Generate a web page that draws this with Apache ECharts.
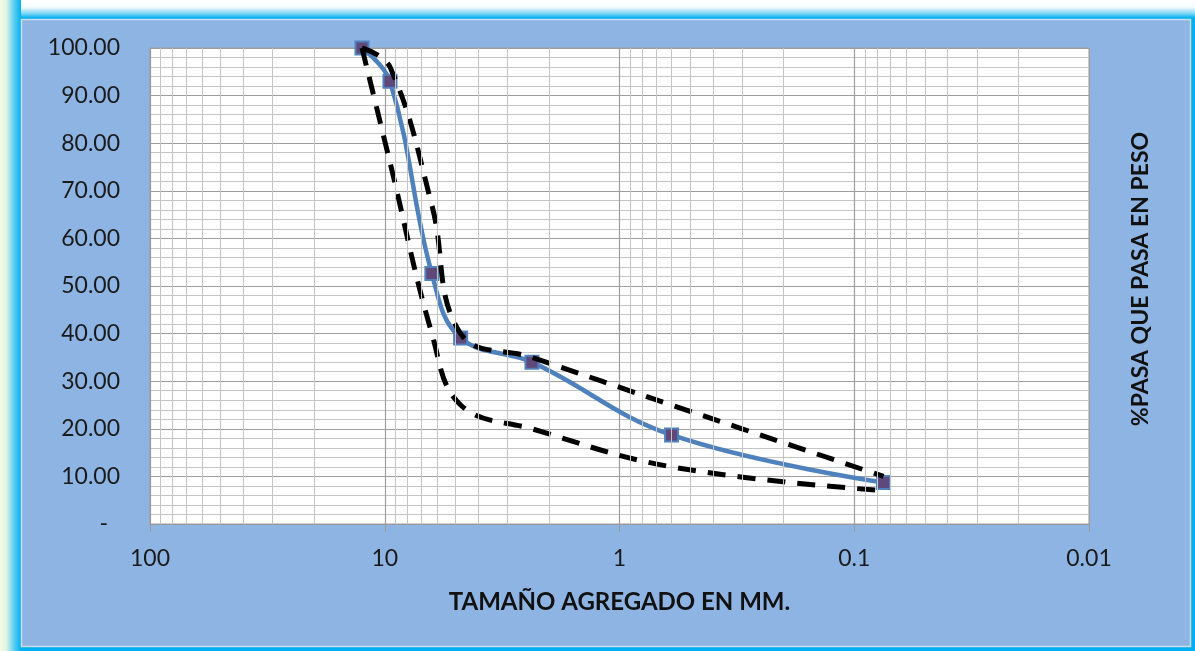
<!DOCTYPE html>
<html>
<head>
<meta charset="utf-8">
<script src="https://cdn.jsdelivr.net/npm/echarts@6/dist/echarts.min.js"></script>
<style>
  html, body { margin: 0; padding: 0; width: 1195px; height: 651px; overflow: hidden; background: #00B0F0; }
  #chart { position: absolute; left: 0; top: 0; width: 1195px; height: 651px; }
</style>
</head>
<body>
<div id="chart"></div>
<script>
// ---- data ----
const sieveSizes = [12.5, 9.5, 6.3, 4.75, 2.36, 0.6, 0.075];           // mm
const passing    = [100, 93, 52.6, 39.1, 34.0, 18.7, 8.7];            // % pasa
const upperSizes = [12.5, 9.5, 6.3, 4.75, 2.36, 0.6, 0.075];
const upperLimit = [100, 96, 67, 40, 35, 25, 10];
const lowerSizes = [12.5, 9.5, 6.3, 4.75, 2.36, 0.6, 0.075];
const lowerLimit = [100, 76, 40, 25, 20, 12, 7];
const xTickLabels = ['0.01', '0.1', '1', '10', '100'];
const decades = [0.01, 0.1, 1, 10];
const minorMultipliers = [2, 3, 4, 5, 6, 7, 8, 9];

const pairs = (xs, ys) => xs.map((x, i) => [x, ys[i]]);
const minorX = [];
decades.forEach(d => minorMultipliers.forEach(m => minorX.push({ xAxis: +(d * m).toPrecision(6) })));

const FONT = 'Lato';
const chart = echarts.init(document.getElementById('chart'), null, { renderer: 'canvas' });
chart.setOption({
  backgroundColor: '#00B0F0',
  animation: false,
  grid: {
    left: 150, top: 48, width: 939, height: 476,
    show: true, backgroundColor: '#ffffff', borderColor: '#a0a0a0', borderWidth: 1
  },
  xAxis: {
    type: 'log', logBase: 10, min: 0.01, max: 100, inverse: true,
    axisLine: { show: true, lineStyle: { color: '#999999', width: 1 } },
    axisTick: { show: true, length: 8, lineStyle: { color: '#999999' } },
    axisLabel: {
      margin: 23, color: '#1a1a1a', fontFamily: FONT, fontSize: 23,
      formatter: v => xTickLabels[Math.round(Math.log10(v)) + 2]
    },
    splitLine: { show: true, lineStyle: { color: '#9e9e9e', width: 1.2 } },
    minorTick: { show: false }, minorSplitLine: { show: false },
    name: 'TAMAÑO AGREGADO EN MM.', nameLocation: 'middle', nameGap: 66,
    nameTextStyle: { fontFamily: FONT, fontSize: 24, fontWeight: 'bold', color: '#111' }
  },
  yAxis: {
    type: 'value', min: 0, max: 100, interval: 10,
    axisLine: { show: true, lineStyle: { color: '#999999' } },
    axisTick: { show: false },
    axisLabel: {
      margin: 30, color: '#1a1a1a', fontFamily: FONT, fontSize: 23,
      formatter: v => v === 0 ? '{d|-}' : v.toFixed(2),
      rich: { d: { fontFamily: FONT, fontSize: 23, color: '#1a1a1a', padding: [0, 12, 0, 0] } }
    },
    splitLine: { show: true, lineStyle: { color: '#9e9e9e', width: 1.2 } },
    minorTick: { show: false, splitNumber: 5 },
    minorSplitLine: { show: true, lineStyle: { color: '#c4c4c4', width: 1 } }
  },
  graphic: [
    { type: 'rect', z: -10, silent: true, shape: { x: 0, y: 0, width: 1195, height: 18 },
      style: { fill: new echarts.graphic.LinearGradient(0, 0, 0, 1, [
        { offset: 0, color: '#ffffff' }, { offset: 0.4, color: '#f4fbfe' },
        { offset: 0.75, color: '#7fd6f6' }, { offset: 1, color: '#00B0F0' }]) } },
    { type: 'rect', z: -9, silent: true, shape: { x: 0, y: 0, width: 21, height: 651 },
      style: { fill: new echarts.graphic.LinearGradient(0, 0, 1, 0, [
        { offset: 0, color: '#f6fbe4' }, { offset: 0.3, color: '#e0f4e0' },
        { offset: 0.65, color: '#62cff3' }, { offset: 1, color: '#00B0F0' }]) } },
    { type: 'rect', z: -8, silent: true, shape: { x: 21.5, y: 19.5, width: 1169, height: 627 },
      style: { fill: '#8EB4E3', stroke: '#c9dcf3', lineWidth: 1.5 } },
    {
      type: 'text', x: 1141, y: 279, rotation: Math.PI / 2,
      style: {
        text: '%PASA QUE PASA EN PESO', fontFamily: FONT, fontSize: 23, fontWeight: 'bold',
        fill: '#111', textAlign: 'center', textVerticalAlign: 'middle'
      }
    }
  ],
  series: [
    {
      type: 'line', data: [], silent: true, z: 1,
      markLine: {
        silent: true, symbol: 'none', label: { show: false },
        lineStyle: { color: '#c4c4c4', width: 1, type: 'solid' },
        data: minorX
      }
    },
    {
      name: 'Granulometría', type: 'line', smooth: 0.4, z: 3,
      data: pairs(sieveSizes, passing),
      lineStyle: { color: '#4F81BD', width: 4.5 },
      symbol: 'rect', symbolSize: 13,
      itemStyle: { color: '#5F497A', borderColor: '#4F81BD', borderWidth: 2 }
    },
    {
      name: 'Límite superior', type: 'line', smooth: 0.4, z: 4, symbol: 'none',
      data: pairs(upperSizes, upperLimit),
      lineStyle: { color: '#000000', width: 5, type: [18, 12] }
    },
    {
      name: 'Límite inferior', type: 'line', smooth: 0.4, z: 4, symbol: 'none',
      data: pairs(lowerSizes, lowerLimit),
      lineStyle: { color: '#000000', width: 5, type: [18, 12] }
    }
  ]
});
</script>
</body>
</html>
